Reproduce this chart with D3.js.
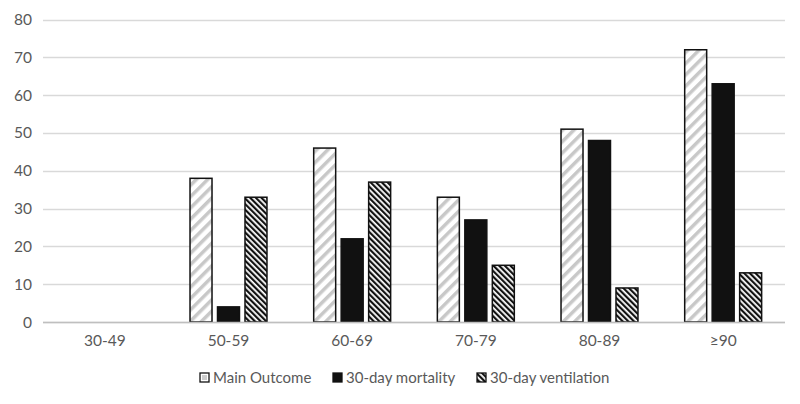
<!DOCTYPE html>
<html><head><meta charset="utf-8">
<script src="https://cdn.jsdelivr.net/npm/d3@7"></script>
<style>body{margin:0;background:#fff;} svg{display:block;}</style>
</head><body><svg id="c" width="800" height="404"></svg>
<script>
const categories = ["30-49","50-59","60-69","70-79","80-89","≥90"];
const seriesNames = ["Main Outcome","30-day mortality","30-day ventilation"];
const mainOutcome = [0,38,46,33,51,72];
const mortality = [0,4,22,27,48,63];
const ventilation = [0,33,37,15,9,13];
const yTicks = [0,10,20,30,40,50,60,70,80];

const series = [mainOutcome, mortality, ventilation];
const svg = d3.select("#c");
const defs = svg.append("defs");
const p1 = defs.append("pattern").attr("id","p1").attr("patternUnits","userSpaceOnUse")
  .attr("width",8).attr("height",8).attr("patternTransform","rotate(45)");
p1.append("rect").attr("width",8).attr("height",8).attr("fill","#fff");
p1.append("rect").attr("width",3.5).attr("height",8).attr("fill","#c8c8c8");
const p3 = defs.append("pattern").attr("id","p3").attr("patternUnits","userSpaceOnUse")
  .attr("width",4).attr("height",4).attr("patternTransform","rotate(-45)");
p3.append("rect").attr("width",4).attr("height",4).attr("fill","#fff");
p3.append("rect").attr("width",2.2).attr("height",4).attr("fill","#111");
const fills = ["url(#p1)","#111","url(#p3)"];

const x0 = 43, x1 = 785, yTop = 19.5, yBot = 322;
const x = d3.scaleBand().domain(categories).range([x0,x1]).paddingInner(0).paddingOuter(0);
const y = d3.scaleLinear().domain([0,80]).range([yBot,yTop]);
const inner = d3.scaleBand().domain(d3.range(3)).range([0, x.bandwidth()]).paddingInner(0.2).paddingOuter(0.85);

const font = "Lato, 'Open Sans', sans-serif";
svg.append("g").selectAll("line").data(yTicks).join("line")
  .attr("x1",x0).attr("x2",x1).attr("y1",d=>Math.round(y(d))+0.5).attr("y2",d=>Math.round(y(d))+0.5)
  .attr("stroke","#d9d9d9").attr("stroke-width",1.3);
svg.append("g").selectAll("text").data(yTicks).join("text")
  .attr("x",32).attr("y",d=>y(d)+5.5).attr("text-anchor","end")
  .attr("font-family",font).attr("font-size",15.5).attr("fill","#595959").text(d=>d);
categories.forEach((c,i)=>{
  series.forEach((s,j)=>{
    const v = s[i];
    if (v<=0) return;
    svg.append("rect")
      .attr("x", x(c)+inner(j)).attr("y", y(v))
      .attr("width", inner.bandwidth()).attr("height", y(0)-y(v))
      .attr("fill", fills[j]).attr("stroke","#111").attr("stroke-width",1.5);
  });
});
svg.append("line").attr("x1",x0).attr("x2",x1).attr("y1",yBot+0.5).attr("y2",yBot+0.5)
  .attr("stroke","#bfbfbf").attr("stroke-width",1.3);
svg.append("g").selectAll("text").data(categories).join("text")
  .attr("x",d=>x(d)+x.bandwidth()/2).attr("y",345.5).attr("text-anchor","middle")
  .attr("font-family",font).attr("font-size",15.5).attr("fill","#595959").text(d=>d);
const legX = [200,333,477];
seriesNames.forEach((n,j)=>{
  svg.append("rect").attr("x",legX[j]).attr("y",373).attr("width",9).attr("height",9)
    .attr("fill", j===0?"#fff":fills[j]).attr("stroke","#111").attr("stroke-width",1.3);
  if(j===0) svg.append("rect").attr("x",legX[j]+2).attr("y",375).attr("width",5).attr("height",5).attr("fill","#ccc");
  svg.append("text").attr("x",legX[j]+13).attr("y",383)
    .attr("font-family",font).attr("font-size",15).attr("fill","#595959").text(n);
});
</script></body></html>
